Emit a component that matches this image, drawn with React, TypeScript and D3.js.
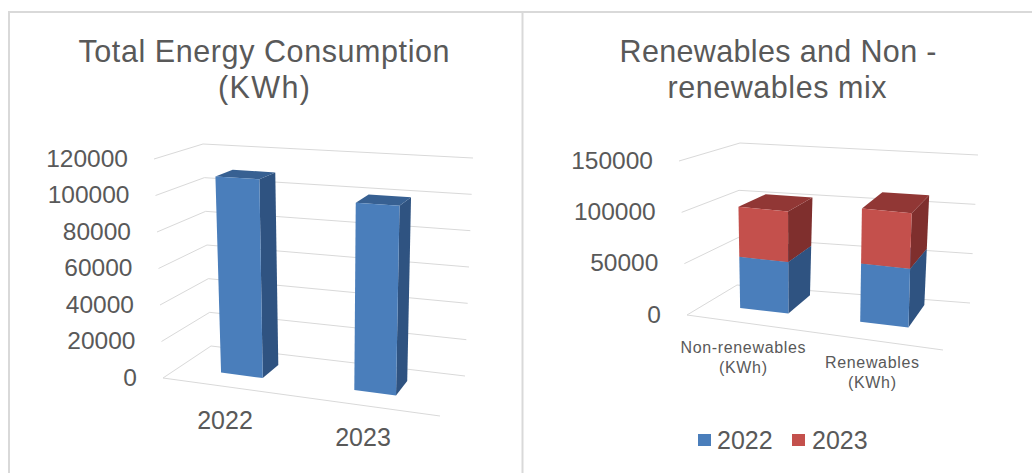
import React from "react";
import * as d3 from "d3";

const years = ["2022", "2023"];
const totalConsumption = [109000, 100000];
const totalTicks = [0, 20000, 40000, 60000, 80000, 100000, 120000];

const mixCategories = ["Non-renewables (KWh)", "Renewables (KWh)"];
const mix2022 = [51000, 57000];
const mix2023 = [50000, 54000];
const mixTicks = [0, 50000, 100000, 150000];

type Pt = [number, number];
interface Box {
  floor: { fl: Pt; fr: Pt; bl: Pt; br: Pt };
  roof: { fl: Pt; fr: Pt; bl: Pt; br: Pt };
}

const BLUE = { front: "#4a7ebb", side: "#2f5381", top: "#376092" };
const RED = { front: "#c4504c", side: "#7f2f2d", top: "#913735" };
const GRID = "#d9d9d9";
const TEXT = "#595959";
const FONT = "'Liberation Sans', Arial, sans-serif";

const mix = (a: Pt, b: Pt, t: number): Pt => [a[0] + (b[0] - a[0]) * t, a[1] + (b[1] - a[1]) * t];

// Trilinear mapping of (across, depth, height) in the unit cube onto the eight plot corners.
function projector(box: Box) {
  return (u: number, d: number, h: number): Pt => {
    const lo = mix(mix(box.floor.fl, box.floor.fr, u), mix(box.floor.bl, box.floor.br, u), d);
    const hi = mix(mix(box.roof.fl, box.roof.fr, u), mix(box.roof.bl, box.roof.br, u), d);
    return mix(lo, hi, h);
  };
}

const polygon = d3.line<Pt>().x((p) => p[0]).y((p) => p[1]);
const closed = (pts: Pt[]) => polygon(pts) + "Z";

interface Segment {
  key: string;
  from: number;
  to: number;
  colors: typeof BLUE;
}

function Column({ project, u0, u1, d0, d1, y, segments }: {
  project: (u: number, d: number, h: number) => Pt;
  u0: number; u1: number; d0: number; d1: number;
  y: d3.ScaleLinear<number, number>;
  segments: Segment[];
}) {
  return (
    <g>
      {segments.map((s) => {
        const a = y(s.from);
        const b = y(s.to);
        return (
          <g key={s.key}>
            <path fill={s.colors.side} d={closed([project(u1, d0, a), project(u1, d1, a), project(u1, d1, b), project(u1, d0, b)])} />
            <path fill={s.colors.top} d={closed([project(u0, d0, b), project(u1, d0, b), project(u1, d1, b), project(u0, d1, b)])} />
            <path fill={s.colors.front} d={closed([project(u0, d0, a), project(u1, d0, a), project(u1, d0, b), project(u0, d0, b)])} />
          </g>
        );
      })}
    </g>
  );
}

function Grid({ project, ticks, y }: {
  project: (u: number, d: number, h: number) => Pt;
  ticks: number[];
  y: d3.ScaleLinear<number, number>;
}) {
  return (
    <g fill="none" stroke={GRID} strokeWidth={1}>
      {ticks.map((t) => (
        <path key={t} d={polygon([project(0, 0, y(t)), project(0, 1, y(t)), project(1, 1, y(t))]) as string} />
      ))}
      <path d={polygon([project(0, 0, 0), project(1, 0, 0)]) as string} />
    </g>
  );
}

function TickLabels({ project, ticks, y }: {
  project: (u: number, d: number, h: number) => Pt;
  ticks: number[];
  y: d3.ScaleLinear<number, number>;
}) {
  return (
    <g fontSize={24.5} fill={TEXT} textAnchor="end">
      {ticks.map((t) => {
        const [x, py] = project(0, 0, y(t));
        return (
          <text key={t} x={x - 26} y={py + 7.5}>{t}</text>
        );
      })}
    </g>
  );
}

const totalBox: Box = {
  floor: { fl: [163, 378], fr: [440, 416], bl: [211, 346], br: [465, 376] },
  roof: { fl: [154, 159], fr: [447, 178], bl: [203, 144], br: [473, 158] },
};

const mixBox: Box = {
  floor: { fl: [687, 315], fr: [943, 350], bl: [737, 285], br: [970, 303] },
  roof: { fl: [679, 161], fr: [948, 190], bl: [740, 143], br: [978, 155] },
};

export default function App() {
  const projectTotal = projector(totalBox);
  const projectMix = projector(mixBox);

  const yTotal = d3.scaleLinear().domain([0, 120000]).range([0, 1]);
  const yMix = d3.scaleLinear().domain([0, 150000]).range([0, 1]);

  const xTotal = d3.scaleBand<string>().domain(years).range([0.0065, 0.9535]).paddingInner(0.687).paddingOuter(0.3);
  const xMix = d3.scaleBand<string>().domain(mixCategories).range([-0.0055, 0.9655]).paddingInner(0.598).paddingOuter(0.3);

  const stackRows = mixCategories.map((c, i) => ({ category: c, "2022": mix2022[i], "2023": mix2023[i] }));
  const stacked = d3.stack<any>().keys(years)(stackRows);

  return (
    <svg
      width={1032}
      height={473}
      viewBox="0 0 1032 473"
      style={{ position: "absolute", left: 0, top: 0, display: "block", background: "#fff" }}
      fontFamily={FONT}
    >
      <g fill="none" stroke={GRID} strokeWidth={2}>
        <path d="M9,473V12H1032" />
        <path d="M522.5,12V473" />
      </g>

      <g fontSize={30.5} fill={TEXT} textAnchor="middle">
        <text x={264} y={62} textLength={371} lengthAdjust="spacing">Total Energy Consumption</text>
        <text x={264} y={98} textLength={92} lengthAdjust="spacing">(KWh)</text>
        <text x={778} y={62} textLength={317} lengthAdjust="spacing">Renewables and Non -</text>
        <text x={777} y={98} textLength={219} lengthAdjust="spacing">renewables mix</text>
      </g>

      <Grid project={projectTotal} ticks={totalTicks} y={yTotal} />
      {years.map((year, i) => {
        const u0 = xTotal(year) as number;
        return (
          <Column
            key={year}
            project={projectTotal}
            u0={u0}
            u1={u0 + xTotal.bandwidth()}
            d0={0.34}
            d1={0.72}
            y={yTotal}
            segments={[{ key: year, from: 0, to: totalConsumption[i], colors: BLUE }]}
          />
        );
      })}
      <TickLabels project={projectTotal} ticks={totalTicks} y={yTotal} />
      <g fontSize={25} fill={TEXT} textAnchor="middle">
        <text x={225} y={429}>{years[0]}</text>
        <text x={363} y={446}>{years[1]}</text>
      </g>

      <Grid project={projectMix} ticks={mixTicks} y={yMix} />
      {mixCategories.map((cat, i) => {
        const u0 = xMix(cat) as number;
        return (
          <Column
            key={cat}
            project={projectMix}
            u0={u0}
            u1={u0 + xMix.bandwidth()}
            d0={0.37}
            d1={0.88}
            y={yMix}
            segments={stacked.map((layer, k) => ({
              key: years[k],
              from: layer[i][0],
              to: layer[i][1],
              colors: k === 0 ? BLUE : RED,
            }))}
          />
        );
      })}
      <TickLabels project={projectMix} ticks={mixTicks} y={yMix} />

      <g fontSize={16} fill={TEXT} textAnchor="middle">
        <text x={743} y={353} textLength={125} lengthAdjust="spacing">Non-renewables</text>
        <text x={743} y={373} textLength={48} lengthAdjust="spacing">(KWh)</text>
        <text x={872} y={368} textLength={94} lengthAdjust="spacing">Renewables</text>
        <text x={872} y={388} textLength={48} lengthAdjust="spacing">(KWh)</text>
      </g>

      <g fontSize={25} fill={TEXT}>
        <rect x={698} y={434} width={13} height={12} fill={BLUE.front} />
        <text x={717} y={449}>{years[0]}</text>
        <rect x={792} y={434} width={13} height={12} fill={RED.front} />
        <text x={812} y={449}>{years[1]}</text>
      </g>
    </svg>
  );
}
